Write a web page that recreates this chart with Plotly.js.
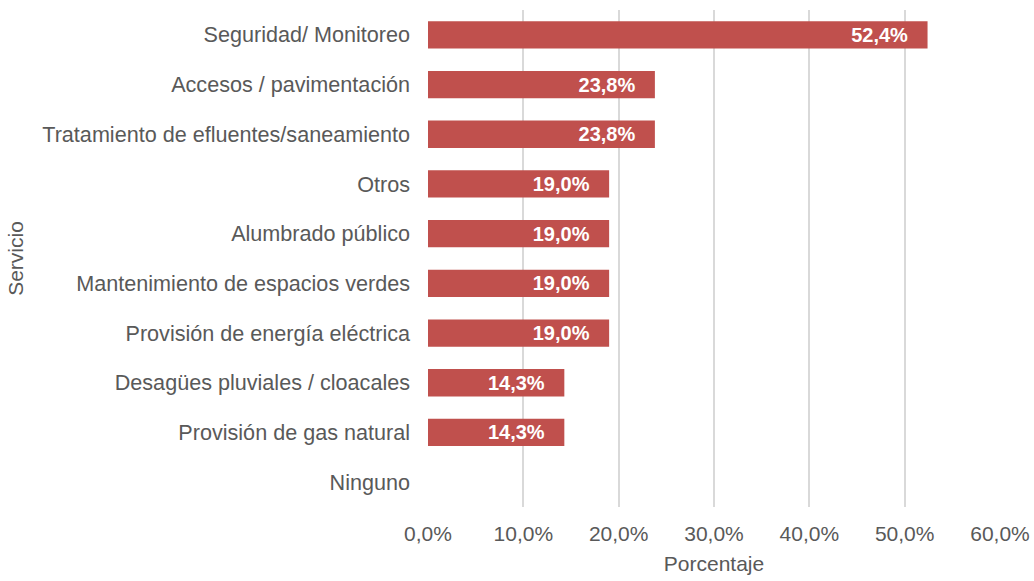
<!DOCTYPE html>
<html>
<head>
<meta charset="utf-8">
<script src="https://cdn.plot.ly/plotly-3.0.1.min.js"></script>
<style>html,body{margin:0;padding:0;background:#fff;}#chart{width:1034px;height:581px;}</style>
</head>
<body>
<div id="chart"></div>
<script>
const categories = [
  "Seguridad/ Monitoreo",
  "Accesos / pavimentación",
  "Tratamiento de efluentes/saneamiento",
  "Otros",
  "Alumbrado público",
  "Mantenimiento de espacios verdes",
  "Provisión de energía eléctrica",
  "Desagües pluviales / cloacales",
  "Provisión de gas natural",
  "Ninguno"
];
const values = [52.4, 23.8, 23.8, 19.0, 19.0, 19.0, 19.0, 14.3, 14.3, 0.0];
const xTicks = [0, 10, 20, 30, 40, 50, 60];
const xTickText = xTicks.map(v => v.toFixed(1).replace(".", ",") + "%");

const font = "Liberation Sans, Arial, Helvetica, sans-serif";
const trace = {
  type: "bar",
  orientation: "h",
  x: values,
  y: categories,
  marker: {color: "#C0504D"},
  texttemplate: "<b>%{x:.1f}%</b>\u00a0\u00a0\u00a0",
  textposition: "inside",
  insidetextanchor: "end",
  textangle: 0,
  constraintext: "none",
  insidetextfont: {color: "#ffffff", size: 20, family: font},
  hoverinfo: "none",
  cliponaxis: false
};
const layout = {
  width: 1034, height: 581,
  margin: {l: 428, r: 34, t: 10, b: 74},
  paper_bgcolor: "#ffffff", plot_bgcolor: "#ffffff",
  separators: ",.",
  bargap: 0.45,
  showlegend: false,
  font: {family: font, color: "#595959", size: 21},
  xaxis: {
    range: [0, 60],
    tickvals: xTicks,
    ticktext: xTickText,
    showgrid: true, gridcolor: "#d9d9d9", gridwidth: 2,
    zeroline: false, showline: false,
    ticks: "", ticklabelstandoff: 12,
    tickfont: {size: 21, color: "#595959"},
    title: {text: "Porcentaje", font: {size: 21, color: "#595959"}, standoff: 12},
    automargin: false, fixedrange: true
  },
  yaxis: {
    type: "category",
    categoryorder: "array",
    categoryarray: categories.slice().reverse(),
    autorange: true,
    showgrid: false, zeroline: false, showline: false,
    ticks: "", ticklabelstandoff: 17,
    tickfont: {size: 21.6, color: "#595959"},
    title: {text: "Servicio", font: {size: 21, color: "#595959"}, standoff: 12},
    automargin: false, fixedrange: true
  }
};
Plotly.newPlot("chart", [trace], layout, {staticPlot: true, displayModeBar: false});
</script>
</body>
</html>
